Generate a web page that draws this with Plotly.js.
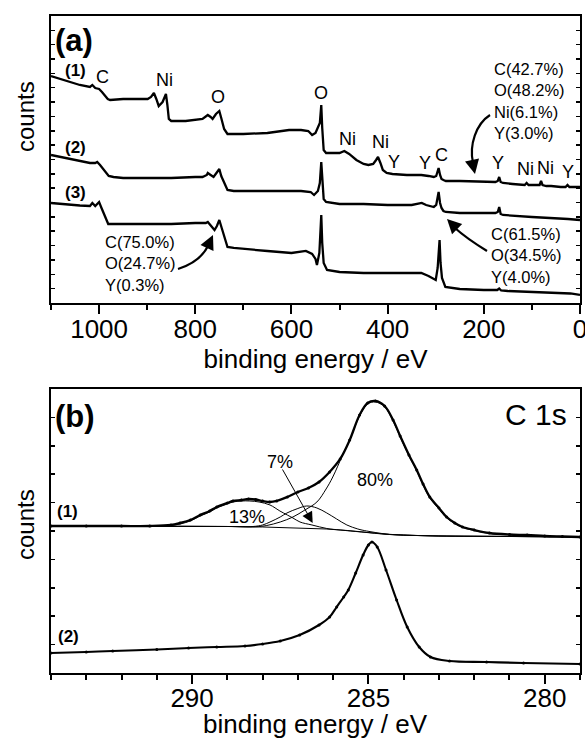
<!DOCTYPE html>
<html>
<head>
<meta charset="utf-8">
<script src="https://cdn.plot.ly/plotly-3.0.1.min.js"></script>
<style>html,body{margin:0;padding:0;background:#fff;}#chart{width:585px;height:738px;}</style>
</head>
<body>
<div id="chart"></div>
<script>
// ---------- Panel (a): XPS survey spectra (binding energy in eV, counts in arbitrary offset units) ----------
const surveyBE1 = [1100,1080,1060,1040,1019,1014,1008,1000,994,988,982,977,950,920,899,892,886,881,876,868,861,858,855,850,820,785,778,774,768,764,757,750,746,740,733,720,700,650,605,580,565,557,550,541,538,536,533,528,515,500,490,480,465,450,440,430,424,420,415,410,402,390,360,330,315,304,299,294,291,288,284,279,250,200,176,171,168,165,160,140,115,111,107,90,84,81,78,70,60,40,30,26,22,15,0];
const surveyI1  = [227,224,221,218,216,218,215,214,211,207,204,203,204,204,204,206,210,204,197,201,209,198,184,182,182,184,186,188,186,184,189,192,185,174,169,169,169,170,173,173,172,168,170,180,198,175,153,150,150,150,152,149,143,139,138,139,143,146,140,133,130,129,128,128,127,126,127,135,128,124,123,122,122,121,121,122,126,121,120,119,118,120,118,118,118,122,118,117,117,116,116,118,116,116,116];

const surveyBE2 = [1100,1080,1060,1040,1019,1008,1004,998,992,986,980,970,950,900,850,800,785,776,774,768,762,756,750,746,740,733,720,700,650,605,580,560,553,545,541,538,536,533,528,515,500,450,400,350,335,329,320,310,304,299,294,291,288,284,279,250,200,176,171,168,165,160,100,50,25,0];
const surveyI2  = [148,146,144,142,140,140,141,138,134,130,127,126,125,125,125,126,126,128,130,128,126,130,134,127,120,113,112,112,112,112,112,111,108,112,120,141,120,104,101,100,99,99,98,98,99,100,98,97,96,98,111,100,95,92,91,90,90,90,91,96,89,88,86,85,84,83];

const surveyBE3 = [1100,1080,1060,1040,1019,1014,1008,1003,1000,995,988,981,970,950,900,850,800,785,778,774,768,760,755,750,745,740,733,720,700,650,600,570,557,550,547,542,538,536,533,526,500,450,400,330,315,305,300,296,292,290,287,280,250,200,172,168,164,150,100,50,20,0];
const surveyI3  = [100,99,98,97.5,97,100,97,99,101,95,86,79,79,79,79,79,80,80,80,81,78,73,77,83,75,66,56,55,54,52,50,52,49,44,38,50,88,60,40,33,31,30,30,30,27,24,23,35,63,40,25,16,14,13,13,14.5,12.5,12,11,10,9.5,8];

// ---------- Panel (b): C 1s high-resolution spectra ----------
const c1sBE1 = [294,293,292,291.2,290.6,290.34,290.05,289.77,289.5,289.3,289.0,288.84,288.6,288.4,288.2,288.0,287.8,287.6,287.3,287.0,286.7,286.4,286.1,285.8,285.53,285.25,285.02,284.8,284.54,284.3,284.1,283.85,283.63,283.45,283.26,283.0,282.78,282.55,282.33,282.0,281.57,281.0,280.5,280.0,279.5,279.0];
const c1sI1  = [147,147,147,147,148,150,153,158,162,166,170,172,173,174,173.5,172,171,172,176,181,185,191,201,214,233,258,270,272,267,253,237,218,203,189,176,165,156,150,146,143,140,138.5,138,137,136.5,136];

const bgBE = [294,291,289,288,287,286.2,285.6,285.2,284.8,284.4,284,283.5,283,282,281,280,279];
const bgI  = [147,147,146.5,146,145,144,142.5,141,139.5,138.5,137.8,137.3,137,136.8,136.5,136.2,136];

const c13BE = [294,291,290.6,290.34,290.05,289.77,289.5,289.3,289.0,288.84,288.6,288.36,288.1,287.79,287.51,287.3,287.14,286.94,286.6,286.18,285.8,285.2,284.4,283,281,279];
const c13I  = [147,147,147.5,149,152,157,161,165,169,171,172,172,171,168,162,158,155,151,148,144.5,143,141,138.5,137,136.5,136];

const c7BE = [294,289,288.27,288.0,287.79,287.5,287.31,287.0,286.75,286.46,286.18,285.9,285.61,285.3,285.05,284.5,284,283,281,279];
const c7I  = [147,146.5,146.5,148,151,156,160,164.5,167,165,160,154,148,144,142,139,138,137,136.5,136];

const c80BE = [294,289,288.2,287.88,287.5,287.14,286.8,286.46,286.2,286.01,285.73,285.53,285.25,285.02,284.8,284.54,284.3,284.1,283.85,283.63,283.45,283.26,283.0,282.78,282.55,282.33,282.0,281.57,281.0,280.5,280,279.5,279];
const c80I  = [147,146.5,146.2,147.5,151,156,163,171,184,196,218,233,257,269,271,266,252,236,217,202,188,175,164,155,149.5,145.5,142.5,139.5,138,137.5,137,136.5,136];

const c1sBE2 = [294,293,292.25,291,290.1,289.3,288.5,288.0,287.5,286.95,286.4,286.1,285.9,285.7,285.57,285.36,285.15,285.0,284.9,284.75,284.5,284.2,283.9,283.56,283.24,282.7,281.65,280.6,279];
const c1sI2  = [20,21,22,23.5,25,26,27,29,32,38,48,56,66,76,83,100,118,128,131,126,103,73,46,26,16,12,11,10,9];

// ---------- Labels ----------
const sampleLabels = ['(1)','(2)','(3)'];
const panelLabels = ['(a)','(b)'];
const compA1 = ['C(42.7%)','O(48.2%)','Ni(6.1%)','Y(3.0%)'];
const compA2 = ['C(75.0%)','O(24.7%)','Y(0.3%)'];
const compA3 = ['C(61.5%)','O(34.5%)','Y(4.0%)'];
const fitLabels = ['13%','7%','80%'];
const xTitle = 'binding energy / eV';
const yTitle = 'counts';

const FONT = 'Liberation Sans, Arial, Helvetica, sans-serif';
const K = 'black';

const thick = {color:K, width:2.3};
const traces = [
  {x:surveyBE1, y:surveyI1, xaxis:'x', yaxis:'y', mode:'lines', line:thick, hoverinfo:'skip'},
  {x:surveyBE2, y:surveyI2, xaxis:'x', yaxis:'y', mode:'lines', line:thick, hoverinfo:'skip'},
  {x:surveyBE3, y:surveyI3, xaxis:'x', yaxis:'y', mode:'lines', line:thick, hoverinfo:'skip'},
  {x:bgBE, y:bgI, xaxis:'x2', yaxis:'y2', mode:'lines', line:{color:K, width:1}, hoverinfo:'skip'},
  {x:c13BE, y:c13I, xaxis:'x2', yaxis:'y2', mode:'lines', line:{color:K, width:1, shape:'spline'}, hoverinfo:'skip'},
  {x:c7BE, y:c7I, xaxis:'x2', yaxis:'y2', mode:'lines', line:{color:K, width:1, shape:'spline'}, hoverinfo:'skip'},
  {x:c80BE, y:c80I, xaxis:'x2', yaxis:'y2', mode:'lines', line:{color:K, width:1, shape:'spline'}, hoverinfo:'skip'},
  {x:c1sBE1, y:c1sI1, xaxis:'x2', yaxis:'y2', mode:'lines+markers', line:{color:K, width:2.3, shape:'spline'}, marker:{color:K, size:3}, hoverinfo:'skip'},
  {x:c1sBE2, y:c1sI2, xaxis:'x2', yaxis:'y2', mode:'lines+markers', line:{color:K, width:2.1, shape:'spline'}, marker:{color:K, size:3}, hoverinfo:'skip'}
];

// pixel -> paper helpers for decorations (margins l=51, t=16, b=65)
const PW = 529, PH = 657;
const px = v => (v - 51) / PW;
const py = v => (673 - v) / PH;

function txt(x, y, text, size, opts) {
  return Object.assign({x:x, y:y, xref:'x', yref:'y', text:text, showarrow:false,
    font:{family:FONT, size:size, color:K}}, opts || {});
}
function txtb(x, y, text, size, opts) {
  return Object.assign({x:x, y:y, xref:'x2', yref:'y2', text:text, showarrow:false,
    font:{family:FONT, size:size, color:K}}, opts || {});
}
function head(tx, ty, ax, ay) {
  return {x:px(tx), y:py(ty), xref:'paper', yref:'paper', ax:ax, ay:ay, text:'', showarrow:true,
    arrowhead:2, arrowsize:1.3, arrowwidth:2.2, arrowcolor:K, standoff:0};
}

const ann = [
  txt(1095, 263, '<b>'+panelLabels[0]+'</b>', 31, {xanchor:'left'}),
  txt(1050, 233, '<b>'+sampleLabels[0]+'</b>', 17),
  txt(1050, 155, '<b>'+sampleLabels[1]+'</b>', 17),
  txt(1050, 110, '<b>'+sampleLabels[2]+'</b>', 17),
  txt(992, 226, 'C', 18), txt(864, 223, 'Ni', 18), txt(752, 206, 'O', 18),
  txt(538, 210, 'O', 18), txt(484, 164, 'Ni', 18), txt(414, 161, 'Ni', 18),
  txt(387, 141, 'Y', 18), txt(323, 140, 'Y', 18), txt(288, 148, 'C', 18),
  txt(170, 140, 'Y', 18), txt(114, 134, 'Ni', 18), txt(71, 135, 'Ni', 18), txt(25, 131, 'Y', 18),
  txt(182, 202, compA1.join('<br>'), 16.5, {xanchor:'left', align:'left'}),
  txt(992, 39, compA2.join('<br>'), 16.5, {xanchor:'left', align:'left'}),
  txt(190, 47, compA3.join('<br>'), 16.5, {xanchor:'left', align:'left'}),
  head(475, 174, -3, -14),
  head(213, 235, -6, 13),
  head(447, 219, 9, 9),
  txtb(293.93, 256, '<b>'+panelLabels[1]+'</b>', 31, {xanchor:'left'}),
  txtb(279.3, 258, 'C 1s', 30, {xanchor:'right'}),
  txtb(293.54, 161, '<b>'+sampleLabels[0]+'</b>', 17),
  txtb(293.5, 36, '<b>'+sampleLabels[1]+'</b>', 17),
  txtb(288.44, 156, fitLabels[0], 18),
  txtb(287.51, 211, fitLabels[1], 18),
  txtb(284.82, 193, fitLabels[2], 18),
  {x:286.58, y:150, xref:'x2', yref:'y2', ax:-31, ay:-55, text:'', showarrow:true,
    arrowhead:2, arrowsize:2.2, arrowwidth:1, arrowcolor:K, standoff:0},
  {x:px(25), y:py(117), xref:'paper', yref:'paper', xanchor:'center', yanchor:'middle',
    text:yTitle, textangle:-90, showarrow:false, font:{family:FONT, size:24, color:K}},
  {x:px(25), y:py(525), xref:'paper', yref:'paper', xanchor:'center', yanchor:'middle',
    text:yTitle, textangle:-90, showarrow:false, font:{family:FONT, size:24, color:K}},
  // x-axis title of panel (b), placed like the reference (tight under the tick labels)
  {x:0.5, y:py(724), xref:'paper', yref:'paper', xanchor:'center', yanchor:'middle',
    text:xTitle, showarrow:false, font:{family:FONT, size:26, color:K}}
];

const curve = d => ({type:'path', xref:'paper', yref:'paper', path:d, line:{color:K, width:2.2}});
const P = (a, b) => px(a) + ',' + py(b);
const shapes = [
  curve('M' + P(490,115) + ' C' + P(476,124) + ' ' + P(469,145) + ' ' + P(473,163)),
  curve('M' + P(178,269) + ' Q' + P(200,262) + ' ' + P(208,246)),
  curve('M' + P(487,251) + ' Q' + P(466,238) + ' ' + P(455,228))
];

const xBase = {showline:true, linewidth:2, linecolor:K, mirror:true, showgrid:false, zeroline:false,
  ticks:'outside', tickwidth:2, ticklen:9, tickcolor:K, ticklabeloverflow:'allow',
  tickfont:{family:FONT, size:26, color:K}};
const yBase = {showline:true, linewidth:2, linecolor:K, mirror:'ticks', showgrid:false, zeroline:false,
  showticklabels:false, ticks:'inside', ticklen:4, tickwidth:1.5, tickcolor:K, tick0:0};

const layout = {
  width:585, height:738,
  margin:{l:51, r:5, t:16, b:65},
  paper_bgcolor:'white', plot_bgcolor:'white',
  showlegend:false,
  font:{family:FONT, color:K},
  xaxis:Object.assign({}, xBase, {domain:[0,1], anchor:'y', range:[1100,0], dtick:200, tick0:0,
    ticklabelstandoff:-7,
    minor:{dtick:100, tick0:0, ticks:'outside', ticklen:5, tickwidth:2, tickcolor:K},
    title:{text:xTitle, font:{family:FONT, size:26, color:K}, standoff:0}}),
  yaxis:Object.assign({}, yBase, {domain:[0.5632,1], anchor:'x', range:[0,287], dtick:14.35}),
  xaxis2:Object.assign({}, xBase, {domain:[0,1], anchor:'y2', range:[294,279], dtick:5, tick0:280,
    ticklabelstandoff:-8,
    minor:{dtick:1, tick0:280, ticks:'outside', ticklen:5, tickwidth:2, tickcolor:K}}),
  yaxis2:Object.assign({}, yBase, {domain:[0,0.4323], anchor:'x2', range:[0,284], dtick:28.4}),
  annotations:ann,
  shapes:shapes
};

Plotly.newPlot('chart', traces, layout, {staticPlot:true, displayModeBar:false});
</script>
</body>
</html>
